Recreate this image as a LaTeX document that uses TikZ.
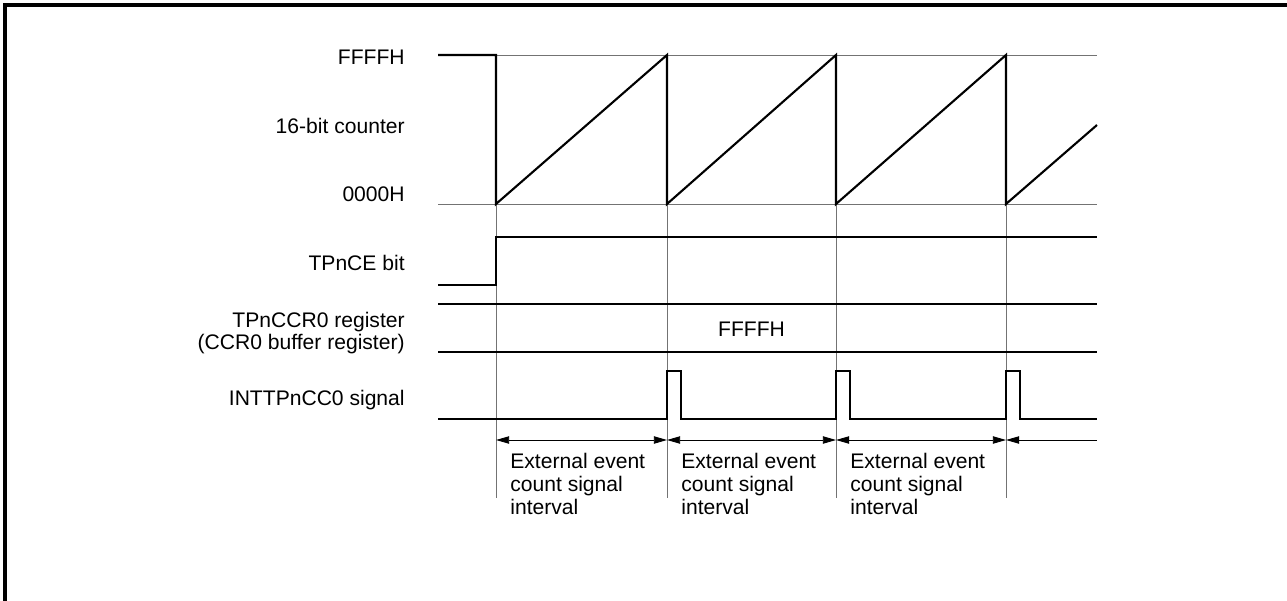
\documentclass[tikz,border=0pt]{standalone}
\usepackage{fontspec}
\setmainfont{Liberation Sans}
\usetikzlibrary{arrows.meta}

\begin{document}
\begin{tikzpicture}[
	x=0.02cm, y=-0.02cm,
	every node/.style={font=\fontsize{12}{13}\selectfont, inner sep=0pt},
	line cap=butt,
	line join=miter,
	guide/.style={draw=black!55, line width=0.5pt},
	sig/.style={line width=1.2pt},
	span/.style={line width=0.5pt, {Triangle[length=7.5pt,width=4.2pt]}-{Triangle[length=7.5pt,width=4.2pt]}}
	]
	\useasboundingbox (0,0) rectangle (1287,601);
	
	% Frame
	\draw[line width=1.8pt] (5,601) -- (5,5) -- (1287,5);
	
	% Guides
	\draw[guide] (438,55) -- (1097,55);
	\draw[guide] (438,204) -- (1097,204);
	\foreach \t in {496,667,836,1006}
	\draw[guide] (\t,55) -- (\t,498);
	
	% Row labels, right aligned
	\node[anchor=base east] (lblmax) at (405,65) {FFFFH};
	\node[anchor=base east] (lblcnt) at (405,134) {16-bit counter};
	\node[anchor=base east] (lblmin) at (405,202) {0000H};
	\node[anchor=base east] (lblce) at (405,270) {TPnCE bit};
	% base of a two-line node is its last line
	\node[anchor=base east, align=right, font=\fontsize{12}{12.5}\selectfont] (lblccr) at (405,349)
	{TPnCCR0 register\\(CCR0 buffer register)};
	\node[anchor=base east] (lblint) at (405,405) {INTTPnCC0 signal};
	
	% 16-bit counter
	\draw[sig] (438,55) -- (496,55) -- (496,204) -- (667,55) -- (667,204)
	-- (836,55) -- (836,204) -- (1006,55) -- (1006,204) -- (1097,125);
	
	% TPnCE bit
	\draw[sig] (438,285) -- (496,285) -- (496,237) -- (1097,237);
	
	% TPnCCR0 register
	\draw[sig] (438,304) -- (1097,304);
	\draw[sig] (438,352) -- (1097,352);
	\node (valccr) at (751.5,329) {FFFFH};
	
	% INTTPnCC0 signal
	\draw[sig] (438,419) -- (667,419)
	\foreach \t in {667,836,1006} {
		-- (\t,419) -- (\t,371) -- (\t+14,371) -- (\t+14,419)
	} -- (1097,419);
	
	% Intervals
	\coordinate (e0) at (496,440);
	\coordinate (e1) at (667,440);
	\coordinate (e2) at (836,440);
	\coordinate (e3) at (1006,440);
	\coordinate (e4) at (1097,440);
	\draw[span] (e0) -- (e1);
	\draw[span] (e1) -- (e2);
	\draw[span] (e2) -- (e3);
	\draw[line width=0.5pt, {Triangle[length=7.5pt,width=4.2pt]}-] (e3) -- (e4);
	
	\foreach \t/\n in {496/1,667/2,836/3}
	\node[anchor=base west, align=left] (ivl\n) at (\t+14,514)
	{External event\\count signal\\interval};
\end{tikzpicture}
\end{document}
